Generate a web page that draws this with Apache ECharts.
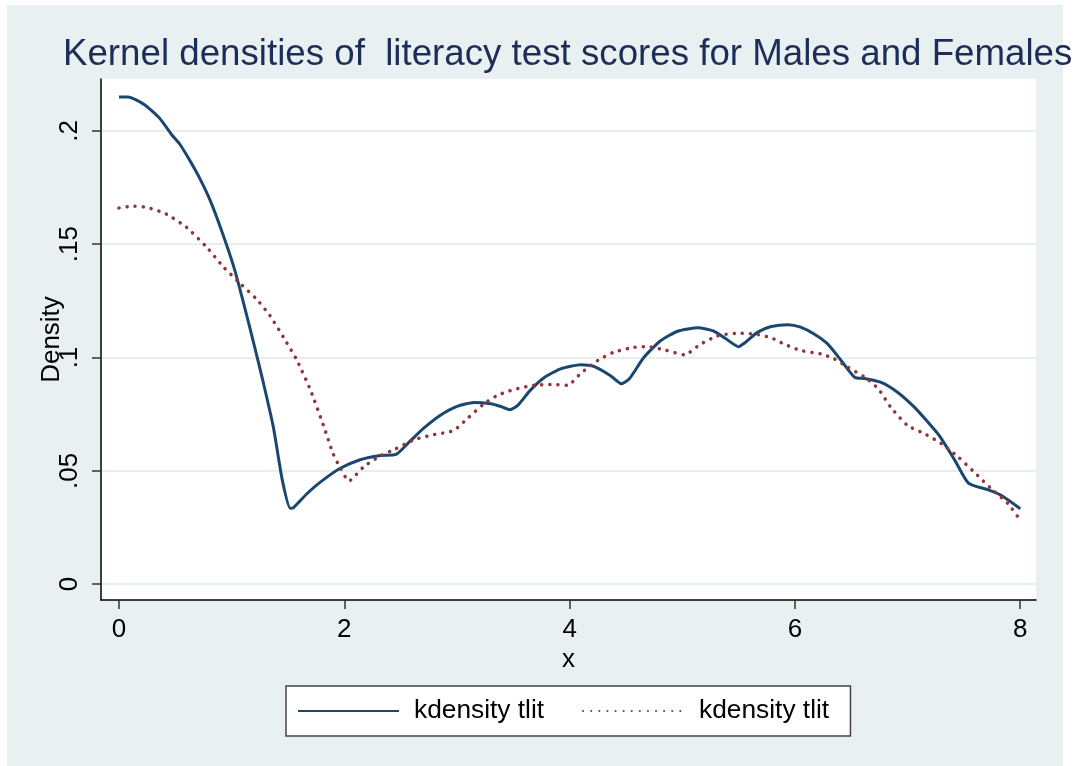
<!DOCTYPE html>
<html>
<head>
<meta charset="utf-8">
<script src="https://cdn.jsdelivr.net/npm/echarts@6/dist/echarts.min.js"></script>
<style>
  html, body { margin: 0; padding: 0; background: #fff; }
  #chart { width: 1080px; height: 766px; }
</style>
</head>
<body>
<div id="chart"></div>
<script>
// kdensity of tlit, males (solid) and females (dotted)
const maleX = [0, 0.08, 0.22, 0.36, 0.47, 0.54, 0.63, 0.72, 0.81, 0.91, 1.02, 1.1, 1.19, 1.28, 1.37, 1.45, 1.52, 1.55,
  1.67, 1.79, 1.96, 2.14, 2.32, 2.46, 2.59, 2.7, 2.85, 3.0, 3.15, 3.3, 3.39, 3.47, 3.54, 3.65, 3.77, 3.92,
  4.1, 4.22, 4.36, 4.46, 4.53, 4.66, 4.81, 4.96, 5.14, 5.28, 5.4, 5.5, 5.55, 5.67, 5.79, 5.94,
  6.05, 6.17, 6.29, 6.41, 6.53, 6.62, 6.76, 6.91, 7.06, 7.18, 7.28, 7.42, 7.54, 7.71, 7.83, 8.0];
const maleDensity = [0.215, 0.215, 0.2118, 0.2056, 0.1982, 0.1941, 0.1868, 0.1787, 0.1692, 0.156, 0.1398, 0.1251, 0.1075, 0.0891, 0.0693, 0.0458, 0.0335, 0.0338,
  0.040, 0.0451, 0.051, 0.0549, 0.0568, 0.0573, 0.0634, 0.0686, 0.0744, 0.0784, 0.0802, 0.0796, 0.0784, 0.077, 0.0789, 0.0855, 0.091, 0.095,
  0.0968, 0.096, 0.0921, 0.0884, 0.0906, 0.1001, 0.1075, 0.1116, 0.1131, 0.1116, 0.1078, 0.1048, 0.1063, 0.1112, 0.1137, 0.1145,
  0.1134, 0.1104, 0.106, 0.0987, 0.0913, 0.0907, 0.0891, 0.0847, 0.0781, 0.0715, 0.0656, 0.0546, 0.0446, 0.0417, 0.0392, 0.0333];

const femaleX = [0, 0.13, 0.25, 0.42, 0.6, 0.78, 0.93, 1.08, 1.22, 1.34, 1.46, 1.58, 1.7, 1.82, 1.9, 1.96, 2.04, 2.17,
  2.32, 2.44, 2.62, 2.76, 2.97, 3.09, 3.24, 3.36, 3.5, 3.68, 3.86, 3.98, 4.1, 4.25, 4.39, 4.57, 4.69, 4.84,
  5.02, 5.16, 5.31, 5.49, 5.64, 5.79, 5.9, 6.05, 6.23, 6.35, 6.47, 6.62, 6.74, 6.85, 7.0, 7.15, 7.3, 7.45, 7.59, 7.74, 7.89, 8.0];
const femaleDensity = [0.166, 0.1668, 0.1662, 0.1633, 0.1574, 0.1486, 0.1398, 0.1325, 0.1258, 0.1185, 0.1089, 0.0987, 0.0855, 0.0693, 0.0576, 0.0517, 0.0455, 0.0517,
  0.0566, 0.0593, 0.0637, 0.0656, 0.0678, 0.073, 0.0796, 0.0833, 0.0858, 0.0877, 0.0881, 0.0877, 0.0931, 0.0987, 0.1023, 0.1045, 0.1048, 0.1034,
  0.1012, 0.1058, 0.1095, 0.1107, 0.1104, 0.1087, 0.106, 0.1031, 0.1016, 0.0994, 0.0957, 0.0913, 0.0862, 0.0781, 0.07, 0.0664, 0.062, 0.0561, 0.0495, 0.0422, 0.0356, 0.0282];

const xTicks = [0, 2, 4, 6, 8];
const yTicks = [0, 0.05, 0.1, 0.15, 0.2];
const legendNames = ['kdensity tlit', 'kdensity tlit '];

const toPairs = (xs, ys) => xs.map((x, i) => [x, ys[i]]);

const chart = echarts.init(document.getElementById('chart'));
const font = 'Liberation Sans, Arial, sans-serif';
const navy = '#1a476f';
const maroon = '#90353b';

chart.setOption({
  backgroundColor: '#fff',
  animation: false,
  graphic: [{
    type: 'rect', z: -10, silent: true,
    shape: { x: 7, y: 5, width: 1056, height: 761 },
    style: { fill: '#e8f0f2' }
  }],
  title: {
    text: 'Kernel densities of  literacy test scores for Males and Females',
    left: 58, top: 31,
    textStyle: { fontFamily: font, fontSize: 36.7, fontWeight: 'normal', color: '#1c2d58' }
  },
  grid: {
    left: 101, right: 44, top: 79, bottom: 166,
    show: true, backgroundColor: '#fff', borderWidth: 0
  },
  legend: {
    data: legendNames,
    left: 286, top: 686,
    padding: [12, 14, 12, 11],
    borderColor: '#444', borderWidth: 1.5,
    backgroundColor: '#fff',
    itemWidth: 101, itemHeight: 14, itemGap: 38,
    itemStyle: { opacity: 0 },
    textStyle: { fontFamily: font, fontSize: 26.3, color: '#000', padding: [0, 0, 0, 10] }
  },
  xAxis: {
    type: 'value', min: -0.16, max: 8.14,
    name: 'x', nameLocation: 'middle', nameGap: 47, nameMoveOverlap: false,
    nameTextStyle: { fontFamily: font, fontSize: 26, color: '#000' },
    axisLine: { show: true, onZero: false, lineStyle: { color: '#000', width: 1.5 } },
    axisTick: { show: true, inside: false, length: 9, customValues: xTicks, lineStyle: { color: '#333', width: 1.5 } },
    axisLabel: { customValues: xTicks, margin: 17, fontFamily: font, fontSize: 26, color: '#000' },
    splitLine: { show: false }
  },
  yAxis: {
    type: 'value', min: -0.007, max: 0.2229,
    name: 'Density', nameLocation: 'middle', nameGap: 36, nameRotate: 90, nameMoveOverlap: false,
    nameTextStyle: { fontFamily: font, fontSize: 26, color: '#000' },
    axisLine: { show: true, onZero: false, lineStyle: { color: '#000', width: 1.5 } },
    axisTick: { show: true, inside: false, length: 9, customValues: yTicks, lineStyle: { color: '#333', width: 1.5 } },
    axisLabel: {
      customValues: yTicks, rotate: 90, margin: 18,
      fontFamily: font, fontSize: 26, color: '#000',
      formatter: v => (v === 0 ? '0' : String(+v.toFixed(2)).replace(/^0/, ''))
    },
    splitLine: { show: true, lineStyle: { color: '#e6eef0', width: 2 } }
  },
  series: [
    {
      name: legendNames[0], type: 'line', data: toPairs(maleX, maleDensity),
      smooth: 0.2, symbol: 'none',
      lineStyle: { color: navy, width: 3 },
      itemStyle: { color: navy }
    },
    {
      name: legendNames[1], type: 'line', data: toPairs(femaleX, femaleDensity),
      smooth: 0.2, symbol: 'none',
      lineStyle: { color: maroon, width: 3.5, type: [0.1, 8], cap: 'round' },
      itemStyle: { color: maroon }
    }
  ]
});
</script>
</body>
</html>
